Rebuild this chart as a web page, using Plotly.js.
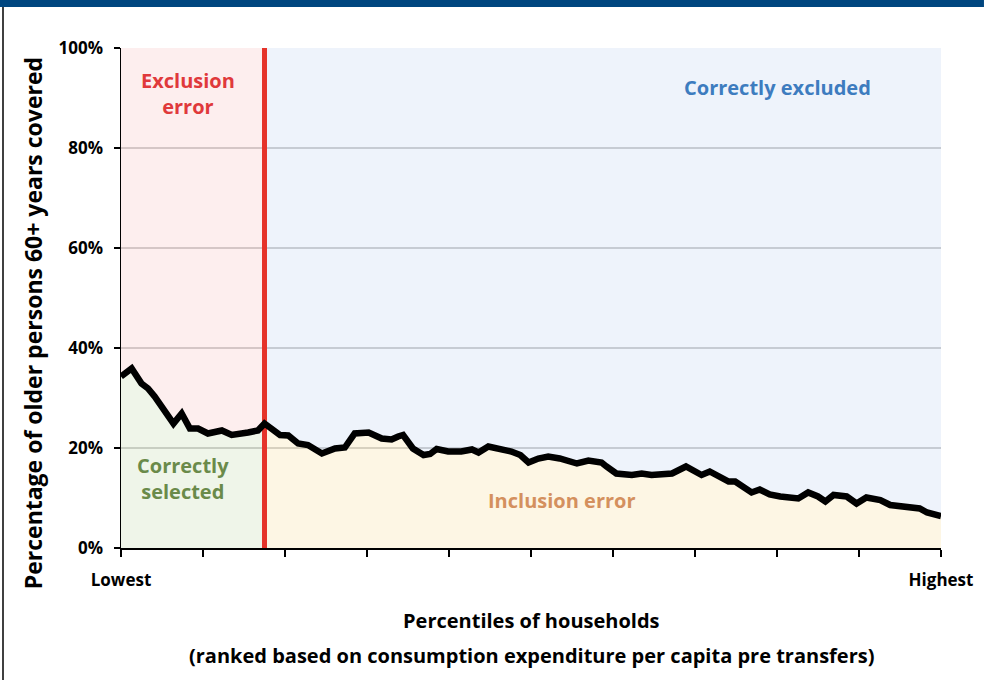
<!DOCTYPE html>
<html>
<head>
<meta charset="utf-8">
<script src="https://cdn.plot.ly/plotly-3.0.1.min.js"></script>
<style>
  html, body { margin: 0; padding: 0; background: #ffffff; }
  #chart { width: 984px; height: 680px; }
</style>
</head>
<body>
<div id="chart"></div>
<script>
// Percentile position of each vertex (0 = lowest, 100 = highest)
const percentile = [0, 1.3, 2.5, 3.3, 4.1, 5.4, 6.4, 7.4, 8.4, 9.4, 10.6, 12.3, 13.5, 15.5, 16.7, 17.5,
  19.4, 20.4, 21.6, 22.8, 24.5, 26.1, 27.3, 28.5, 30.2, 31.8, 33.0, 33.8, 34.4, 35.6, 36.9, 37.7,
  38.5, 39.9, 41.5, 42.8, 43.6, 44.8, 46.0, 47.6, 48.7, 49.7, 50.9, 52.1, 53.5, 55.6, 57.0, 58.6,
  59.2, 60.4, 62.3, 63.5, 64.7, 65.9, 67.2, 68.9, 69.8, 70.8, 71.8, 72.8, 74.1, 74.9, 75.9, 76.9,
  77.9, 79.1, 80.4, 81.6, 82.6, 83.8, 85.0, 85.9, 86.9, 88.5, 89.7, 90.9, 92.6, 93.8, 96.2, 97.4,
  98.3, 99.5, 100];
// Percentage of older persons 60+ covered
const coverage = [34.3, 35.9, 32.9, 31.9, 30.3, 27.3, 24.9, 26.9, 23.9, 23.9, 22.9, 23.5, 22.6, 23.1, 23.5, 24.9,
  22.6, 22.5, 20.9, 20.6, 18.9, 19.9, 20.1, 22.9, 23.1, 21.9, 21.7, 22.3, 22.6, 19.9, 18.6, 18.8,
  19.8, 19.3, 19.3, 19.7, 19.1, 20.3, 19.9, 19.3, 18.6, 17.1, 17.9, 18.3, 17.9, 16.9, 17.5, 17.1,
  16.3, 14.9, 14.6, 14.9, 14.6, 14.8, 14.9, 16.3, 15.6, 14.6, 15.3, 14.3, 13.3, 13.3, 12.3, 11.1,
  11.7, 10.7, 10.3, 10.1, 9.9, 11.1, 10.3, 9.3, 10.6, 10.3, 8.9, 10.1, 9.6, 8.6, 8.3, 7.9,
  7.1, 6.6, 6.4];
// Eligibility cut-off percentile
const cutoff = 17.5;

const yTickVals = [0, 20, 40, 60, 80, 100];
const yTickText = ['0%', '20%', '40%', '60%', '80%', '100%'];
const xTickVals = [0, 10, 20, 30, 40, 50, 60, 70, 80, 90, 100];
const xTickText = ['Lowest', '', '', '', '', '', '', '', '', '', 'Highest'];

const xMin = 0, xMax = 100, yMin = 0, yMax = 100;

// split the series at the cut-off
const leftX = [], leftY = [], rightX = [], rightY = [];
percentile.forEach((p, i) => {
  if (p <= cutoff) { leftX.push(p); leftY.push(coverage[i]); }
  if (p >= cutoff) { rightX.push(p); rightY.push(coverage[i]); }
});

const FONT = 'Open Sans, Liberation Sans, sans-serif';

const traces = [
  // Exclusion error (above line, left of cutoff)
  { x: leftX.concat([cutoff, xMin]), y: leftY.concat([yMax, yMax]), mode: 'none', fill: 'toself',
    fillcolor: 'rgba(240,90,90,0.10)', hoverinfo: 'skip', showlegend: false },
  // Correctly excluded (above line, right of cutoff)
  { x: rightX.concat([xMax, cutoff]), y: rightY.concat([yMax, yMax]), mode: 'none', fill: 'toself',
    fillcolor: 'rgba(90,140,215,0.10)', hoverinfo: 'skip', showlegend: false },
  // Correctly selected (below line, left)
  { x: leftX, y: leftY, mode: 'none', fill: 'tozeroy',
    fillcolor: 'rgba(120,170,70,0.12)', hoverinfo: 'skip', showlegend: false },
  // Inclusion error (below line, right)
  { x: rightX, y: rightY, mode: 'none', fill: 'tozeroy',
    fillcolor: 'rgba(245,200,90,0.16)', hoverinfo: 'skip', showlegend: false },
  // cut-off line
  { x: [cutoff, cutoff], y: [yMin, yMax], mode: 'lines',
    line: { color: '#e5332a', width: 5 }, hoverinfo: 'skip', showlegend: false },
  // coverage line
  { x: percentile, y: coverage, mode: 'lines',
    line: { color: '#000000', width: 6.5, shape: 'linear' }, showlegend: false }
];

const layout = {
  width: 984, height: 680,
  margin: { l: 121, r: 43, t: 48, b: 132 },
  paper_bgcolor: '#ffffff',
  plot_bgcolor: '#ffffff',
  font: { family: FONT, color: '#000000' },
  showlegend: false,
  xaxis: {
    range: [xMin, xMax], fixedrange: true,
    tickmode: 'array', tickvals: xTickVals, ticktext: xTickText,
    ticks: 'outside', ticklen: 7, tickwidth: 1.5, tickcolor: '#000',
    showline: true, linecolor: '#000', linewidth: 2,
    showgrid: false, zeroline: false,
    ticklabelstandoff: 9,
    tickfont: { family: FONT, size: 17, weight: 'bold', color: '#000' }
  },
  yaxis: {
    range: [yMin, yMax], fixedrange: true,
    tickmode: 'array', tickvals: yTickVals, ticktext: yTickText,
    ticks: 'outside', ticklen: 6, tickwidth: 1.5, tickcolor: '#000',
    showline: true, linecolor: '#000', linewidth: 1.5,
    showgrid: true, gridcolor: '#d3d3d3', gridwidth: 2,
    zeroline: false,
    ticklabelstandoff: 7,
    tickfont: { family: FONT, size: 17, weight: 'bold', color: '#000' }
  },
  annotations: [
    { xref: 'paper', yref: 'paper', x: -0.107, y: 0.45, xanchor: 'center', yanchor: 'middle',
      textangle: -90, showarrow: false,
      text: 'Percentage of older persons 60+ years covered',
      font: { family: FONT, size: 23, weight: 'bold', color: '#000' } },
    { xref: 'paper', yref: 'paper', x: 0.5, y: -0.144, xanchor: 'center', yanchor: 'middle',
      showarrow: false, text: 'Percentiles of households',
      font: { family: FONT, size: 20, weight: 'bold', color: '#000' } },
    { xref: 'paper', yref: 'paper', x: 0.5, y: -0.214, xanchor: 'center', yanchor: 'middle',
      showarrow: false,
      text: '(ranked based on consumption expenditure per capita pre transfers)',
      font: { family: FONT, size: 20, weight: 'bold', color: '#000' } },
    { x: 8.2, y: 90.9, showarrow: false, text: 'Exclusion<br>error',
      font: { family: FONT, size: 20, weight: 'bold', color: '#e0393b' } },
    { x: 80, y: 92.2, showarrow: false, text: 'Correctly excluded',
      font: { family: FONT, size: 20, weight: 'bold', color: '#3d7cbf' } },
    { x: 7.6, y: 13.9, showarrow: false, text: 'Correctly<br>selected',
      font: { family: FONT, size: 20, weight: 'bold', color: '#6a8a4a' } },
    { x: 53.8, y: 9.6, showarrow: false, text: 'Inclusion error',
      font: { family: FONT, size: 20, weight: 'bold', color: '#d4905e' } }
  ],
  shapes: [
    { type: 'rect', xref: 'paper', yref: 'paper', x0: -0.1476, x1: 1.0524, y0: 1.082, y1: 1.096,
      fillcolor: '#00467f', line: { width: 0 } },
    { type: 'line', xref: 'paper', yref: 'paper', x0: -0.1439, x1: -0.1439, y0: -0.264, y1: 1.082,
      line: { color: '#000', width: 1.5 } }
  ]
};

Plotly.newPlot('chart', traces, layout, { staticPlot: true, displayModeBar: false });
</script>
</body>
</html>
